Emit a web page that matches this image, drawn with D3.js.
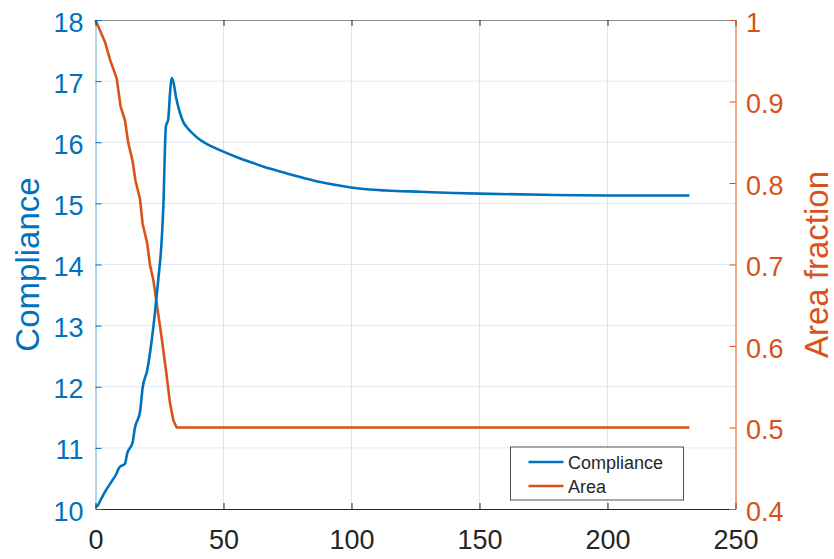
<!DOCTYPE html>
<html lang="en">
<head>
    <meta charset="UTF-8">
    <title>Compliance and Area fraction</title>
    <style>
        body { margin: 0; background: #fff; }
        text { font-family: "Liberation Sans", Arial, Helvetica, sans-serif; }
    </style>
    <script src="https://d3js.org/d3.v7.min.js"></script>
</head>
<body>
    <svg width="834" height="559"></svg>
    <script>
        // Compliance curve
        const complianceX = [0, 0.7, 2, 3.7, 6.3, 8, 9.3, 11.5, 12.4, 14.5, 15.4, 17.4, 18.4, 20.2, 21.9, 23.2, 24.9, 25.5, 26.5,
            27.5, 28.4, 29.1, 29.7, 30.4, 31.4, 33, 34.3, 35.6, 38, 40.8, 44, 49.7, 55, 61.6, 68, 74.7, 81, 87.7, 94,
            99.8, 106, 113.7, 126.7, 140, 150, 175, 200, 232];
        const complianceY = [10.04, 10.05, 10.15, 10.28, 10.45, 10.56, 10.68, 10.74, 10.91, 11.09, 11.33, 11.59, 11.98, 12.27, 12.74, 13.2, 13.91, 14.18, 14.95,
            16.26, 16.37, 16.8, 17.05, 16.99, 16.75, 16.48, 16.33, 16.25, 16.14, 16.04, 15.96, 15.85, 15.76, 15.66, 15.57, 15.49, 15.42, 15.35, 15.3,
            15.26, 15.23, 15.21, 15.19, 15.17, 15.16, 15.14, 15.13, 15.13];

        // Area fraction curve
        const areaX = [0, 3.7, 5.7, 8.3, 9.8, 11.5, 12.8, 14.5, 15.6, 17.4, 18.4, 20.2, 21.3, 22.6, 23.9, 25.8, 27.5, 29.1, 30.4, 31.7, 232];
        const areaY = [1.0, 0.973, 0.951, 0.928, 0.894, 0.877, 0.849, 0.827, 0.803, 0.78, 0.75, 0.726, 0.699, 0.681, 0.652, 0.611, 0.571, 0.53, 0.509, 0.5, 0.5];

        // Ticks
        const xTicks = [0, 50, 100, 150, 200, 250];
        const leftTicks = [10, 11, 12, 13, 14, 15, 16, 17, 18];
        const rightTicks = [0.4, 0.5, 0.6, 0.7, 0.8, 0.9, 1];

        const blue = "#0072BD";
        const orange = "#D95319";
        const dark = "#262626";

        // plot box
        const plotL = 95.5, plotR = 735.5, plotT = 20, plotB = 509;

        const svg = d3.select("svg");

        const x = d3.scaleLinear().domain([0, 250]).range([plotL, plotR]);
        const yL = d3.scaleLinear().domain([10, 18]).range([plotB, plotT]);
        const yR = d3.scaleLinear().domain([0.4, 1]).range([plotB, plotT]);

        // grid lines
        svg.append("g").selectAll("line")
            .data(xTicks.slice(1, -1))
            .enter().append("line")
            .attr("x1", d => x(d)).attr("x2", d => x(d))
            .attr("y1", plotT).attr("y2", plotB)
            .attr("stroke", "#e3e3e3").attr("stroke-width", 1);

        svg.append("g").selectAll("line")
            .data(leftTicks.slice(1, -1))
            .enter().append("line")
            .attr("x1", plotL).attr("x2", plotR)
            .attr("y1", d => yL(d)).attr("y2", d => yL(d))
            .attr("stroke", "#dde9f4").attr("stroke-width", 1);

        // data lines
        const lineL = d3.line().x(d => x(d[0])).y(d => yL(d[1])).curve(d3.curveMonotoneX);
        const lineR = d3.line().x(d => x(d[0])).y(d => yR(d[1]));

        svg.append("path")
            .datum(areaX.map((v, i) => [v, areaY[i]]))
            .attr("d", lineR)
            .attr("fill", "none").attr("stroke", orange).attr("stroke-width", 2.6)
            .attr("stroke-linejoin", "round");

        svg.append("path")
            .datum(complianceX.map((v, i) => [v, complianceY[i]]))
            .attr("d", lineL)
            .attr("fill", "none").attr("stroke", blue).attr("stroke-width", 2.6)
            .attr("stroke-linejoin", "round");

        // axes
        const tickFont = 27;

        const xAxis = d3.axisBottom(x).tickValues(xTicks).tickSizeInner(-6).tickSizeOuter(0).tickPadding(21);
        const gx = svg.append("g").attr("transform", `translate(0,${plotB})`).call(xAxis);
        gx.select(".domain").attr("stroke", dark);
        gx.selectAll(".tick line").attr("stroke", dark);
        gx.selectAll(".tick text").attr("fill", dark).attr("font-size", tickFont).attr("font-family", null);

        // top edge with inward ticks
        const gt = svg.append("g").attr("transform", `translate(0,${plotT})`)
            .call(d3.axisTop(x).tickValues(xTicks).tickSizeInner(-6).tickSizeOuter(0).tickFormat(""));
        gt.select(".domain").attr("stroke", "#8c8c8c");
        gt.selectAll(".tick line").attr("stroke", dark);

        const gl = svg.append("g").attr("transform", `translate(${plotL},0)`)
            .call(d3.axisLeft(yL).tickValues(leftTicks).tickSizeInner(-6).tickSizeOuter(0).tickPadding(12));
        gl.select(".domain").attr("stroke", blue).attr("stroke-opacity", 0.6);
        gl.selectAll(".tick line").attr("stroke", blue);
        gl.selectAll(".tick text").attr("fill", blue).attr("font-size", tickFont).attr("font-family", null)
            .attr("dy", "0.41em");

        const gr = svg.append("g").attr("transform", `translate(${plotR},0)`)
            .call(d3.axisRight(yR).tickValues(rightTicks).tickSizeInner(-6).tickSizeOuter(0).tickPadding(10.5)
                .tickFormat(d => d === 1 ? "1" : d3.format(".1f")(d)));
        gr.select(".domain").attr("stroke", orange);
        gr.selectAll(".tick line").attr("stroke", orange);
        gr.selectAll(".tick text").attr("fill", orange).attr("font-size", tickFont).attr("font-family", null)
            .attr("dy", "0.41em");

        // axis titles
        svg.append("text")
            .attr("transform", `translate(39,${(plotT + plotB) / 2}) rotate(-90)`)
            .attr("text-anchor", "middle")
            .attr("font-size", 33).attr("fill", blue)
            .text("Compliance");

        svg.append("text")
            .attr("transform", `translate(828,${(plotT + plotB) / 2}) rotate(-90)`)
            .attr("text-anchor", "middle")
            .attr("font-size", 33).attr("fill", orange)
            .text("Area fraction");

        // legend
        const legend = svg.append("g").attr("transform", "translate(510.5,447)");
        legend.append("rect")
            .attr("width", 173).attr("height", 53)
            .attr("fill", "#fff").attr("stroke", dark).attr("stroke-width", 0.8);

        const legendItems = [
            { name: "Compliance", color: blue },
            { name: "Area", color: orange }
        ];
        const item = legend.selectAll(".item")
            .data(legendItems)
            .enter().append("g")
            .attr("transform", (d, i) => `translate(0,${15 + i * 24})`);
        item.append("line")
            .attr("x1", 18).attr("x2", 53)
            .attr("stroke", d => d.color).attr("stroke-width", 2.6);
        item.append("text")
            .attr("x", 57.5).attr("y", 6.5)
            .attr("font-size", 18).attr("fill", dark)
            .text(d => d.name);
    </script>
</body>
</html>
